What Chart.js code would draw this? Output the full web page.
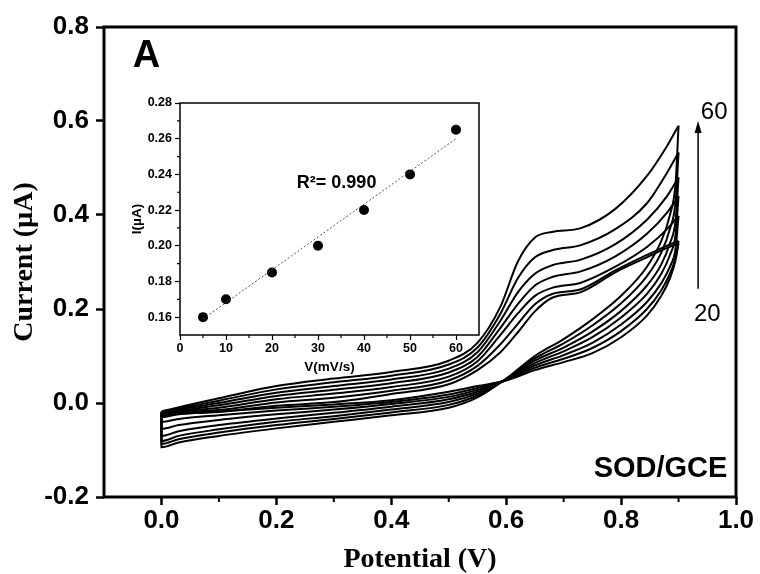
<!DOCTYPE html>
<html>
<head>
<meta charset="utf-8">
<script src="https://cdn.jsdelivr.net/npm/chart.js@4.4.0/dist/chart.umd.min.js"></script>
<style>
  html, body { margin: 0; padding: 0; background: #fff; }
  #wrap { position: relative; width: 760px; height: 574px; }
  #main { position: absolute; left: 0; top: 0; }
  #inset { position: absolute; left: 120px; top: 85px; }
</style>
</head>
<body>
<div id="wrap">
  <canvas id="main" width="760" height="574"></canvas>
  <canvas id="inset" width="380" height="300"></canvas>
</div>
<script>
// scan rates (mV/s), one CV loop per rate
const scanRates = [5, 10, 20, 30, 40, 50, 60];

// forward (anodic) branch, potential in V
const fwdPotential = [0, 0.02, 0.1, 0.2, 0.3, 0.4, 0.5, 0.55, 0.59, 0.62, 0.65, 0.68, 0.73, 0.79, 0.845, 0.88, 0.9];
const fwdCurrent = [
  [-0.027, -0.024, -0.019, -0.006, 0.002, 0.019, 0.040, 0.070, 0.108, 0.150, 0.195, 0.224, 0.236, 0.278, 0.310, 0.330, 0.340],
  [-0.026, -0.022, -0.015, 0.001, 0.011, 0.026, 0.048, 0.079, 0.125, 0.168, 0.210, 0.232, 0.242, 0.282, 0.315, 0.335, 0.345],
  [-0.024, -0.020, -0.010, 0.008, 0.020, 0.034, 0.056, 0.089, 0.145, 0.190, 0.228, 0.245, 0.256, 0.290, 0.332, 0.370, 0.398],
  [-0.022, -0.018, -0.005, 0.015, 0.028, 0.042, 0.065, 0.098, 0.160, 0.210, 0.250, 0.268, 0.280, 0.312, 0.360, 0.405, 0.440],
  [-0.021, -0.016, 0.000, 0.022, 0.036, 0.050, 0.073, 0.108, 0.175, 0.235, 0.275, 0.293, 0.305, 0.338, 0.390, 0.440, 0.480],
  [-0.019, -0.014, 0.005, 0.029, 0.044, 0.058, 0.082, 0.118, 0.190, 0.265, 0.310, 0.325, 0.336, 0.370, 0.425, 0.490, 0.533],
  [-0.018, -0.012, 0.010, 0.036, 0.052, 0.066, 0.090, 0.128, 0.205, 0.300, 0.352, 0.364, 0.372, 0.413, 0.483, 0.547, 0.590]
];

// reverse (cathodic) branch, listed with ascending potential
const revPotential = [0, 0.03, 0.1, 0.2, 0.3, 0.4, 0.5, 0.55, 0.6, 0.65, 0.7, 0.75, 0.8, 0.845, 0.87, 0.885, 0.895, 0.9];
const revCurrent = [
  [-0.030, -0.024, -0.018, -0.010, -0.003, 0.006, 0.024, 0.036, 0.048, 0.070, 0.087, 0.106, 0.140, 0.186, 0.228, 0.265, 0.305, 0.340],
  [-0.040, -0.034, -0.026, -0.016, -0.008, 0.002, 0.018, 0.032, 0.049, 0.075, 0.094, 0.117, 0.153, 0.200, 0.240, 0.275, 0.310, 0.345],
  [-0.055, -0.047, -0.036, -0.024, -0.014, -0.002, 0.013, 0.028, 0.049, 0.080, 0.102, 0.128, 0.167, 0.215, 0.255, 0.290, 0.330, 0.398],
  [-0.070, -0.060, -0.047, -0.033, -0.021, -0.008, 0.008, 0.024, 0.050, 0.085, 0.110, 0.140, 0.182, 0.232, 0.275, 0.315, 0.360, 0.440],
  [-0.081, -0.070, -0.056, -0.040, -0.028, -0.014, 0.002, 0.020, 0.050, 0.090, 0.118, 0.152, 0.196, 0.250, 0.295, 0.340, 0.390, 0.480],
  [-0.087, -0.077, -0.063, -0.047, -0.034, -0.020, -0.004, 0.016, 0.051, 0.095, 0.127, 0.165, 0.212, 0.270, 0.320, 0.370, 0.430, 0.533],
  [-0.094, -0.084, -0.070, -0.054, -0.040, -0.026, -0.010, 0.012, 0.052, 0.100, 0.136, 0.178, 0.228, 0.290, 0.345, 0.400, 0.470, 0.590]
];

const xTicks = [0, 0.2, 0.4, 0.6, 0.8, 1.0];
const xMinor = [0.1, 0.3, 0.5, 0.7, 0.9];
const yTicks = [-0.2, 0, 0.2, 0.4, 0.6, 0.8];
const yMinor = [];

// inset: peak current vs scan rate
const insetRate = [5, 10, 20, 30, 40, 50, 60];
const insetPeak = [0.160, 0.170, 0.185, 0.200, 0.220, 0.240, 0.265];
const fitRate = [5, 60];
const fitPeak = [0.159, 0.260];
const insetXTicks = [0, 10, 20, 30, 40, 50, 60];
const insetXMinor = [5, 15, 25, 35, 45, 55];
const insetYTicks = [0.16, 0.18, 0.20, 0.22, 0.24, 0.26, 0.28];
const insetYMinor = [0.17, 0.19, 0.21, 0.23, 0.25, 0.27];

const SANS = "'Liberation Sans', Arial, sans-serif";
const SERIF = "'Liberation Serif', 'Times New Roman', serif";

const cvDatasets = [];
scanRates.forEach((rate, i) => {
    const style = {
        showLine: true, borderColor: "#000", borderWidth: 2, pointRadius: 0,
        cubicInterpolationMode: "monotone", fill: false
    };
    cvDatasets.push(Object.assign({
        label: rate + " fwd",
        data: fwdPotential.map((x, k) => ({ x: x, y: fwdCurrent[i][k] }))
    }, style));
    // reverse branch, plus the short vertical join at 0 V
    const rev = [{ x: 0, y: fwdCurrent[i][0] }].concat(
        revPotential.map((x, k) => ({ x: x, y: revCurrent[i][k] }))
    );
    cvDatasets.push(Object.assign({ label: rate + " rev", data: rev }, style));
});

function minorTicks(ctx, area, xs, ys, xVals, yVals, len, width) {
    ctx.save();
    ctx.strokeStyle = "#000";
    ctx.lineWidth = width;
    ctx.beginPath();
    xVals.forEach((v) => {
        const px = xs.getPixelForValue(v);
        ctx.moveTo(px, area.bottom);
        ctx.lineTo(px, area.bottom + len);
    });
    yVals.forEach((v) => {
        const py = ys.getPixelForValue(v);
        ctx.moveTo(area.left, py);
        ctx.lineTo(area.left - len, py);
    });
    ctx.stroke();
    ctx.restore();
}

const mainDecor = {
    id: "mainDecor",
    afterDraw(chart) {
        const ctx = chart.ctx;
        const a = chart.chartArea;
        const xs = chart.scales.x, ys = chart.scales.y;
        minorTicks(ctx, a, xs, ys, xMinor, yMinor, 5, 2);
        ctx.save();
        ctx.strokeStyle = "#000";
        ctx.lineWidth = 3;
        ctx.strokeRect(a.left, a.top, a.right - a.left, a.bottom - a.top);

        ctx.fillStyle = "#000";
        ctx.textBaseline = "alphabetic";
        ctx.font = "bold 38px " + SANS;
        ctx.textAlign = "left";
        ctx.fillText("A", xs.getPixelForValue(-0.05), ys.getPixelForValue(0.715));

        ctx.font = "bold 29px " + SANS;
        ctx.textAlign = "right";
        ctx.fillText("SOD/GCE", xs.getPixelForValue(0.985), ys.getPixelForValue(-0.157));

        ctx.font = "24px " + SANS;
        ctx.textAlign = "center";
        ctx.fillText("60", xs.getPixelForValue(0.962), ys.getPixelForValue(0.604));
        ctx.fillText("20", xs.getPixelForValue(0.95), ys.getPixelForValue(0.1745));

        // arrow from 20 up to 60
        const ax = xs.getPixelForValue(0.934);
        const y0 = ys.getPixelForValue(0.243), y1 = ys.getPixelForValue(0.6);
        ctx.lineWidth = 1.5;
        ctx.beginPath();
        ctx.moveTo(ax, y0);
        ctx.lineTo(ax, y1 + 10);
        ctx.stroke();
        ctx.beginPath();
        ctx.moveTo(ax, y1);
        ctx.lineTo(ax - 3.5, y1 + 12);
        ctx.lineTo(ax + 3.5, y1 + 12);
        ctx.closePath();
        ctx.fill();
        ctx.restore();
    }
};

new Chart(document.getElementById("main"), {
    type: "scatter",
    data: { datasets: cvDatasets },
    options: {
        responsive: false,
        animation: false,
        layout: { padding: { left: 0, top: 27, right: 24, bottom: 0 } },
        plugins: { legend: { display: false }, tooltip: { enabled: false } },
        scales: {
            x: {
                type: "linear", min: -0.1, max: 1.0,
                afterBuildTicks: (s) => { s.ticks = xTicks.map((v) => ({ value: v })); },
                afterFit: (s) => { s.height = 77; s.paddingLeft = 0; s.paddingRight = 0; },
                ticks: {
                    callback: (v) => Number(v).toFixed(1), autoSkip: false, maxRotation: 0,
                    color: "#000", padding: 0, font: { family: SANS, size: 26, weight: "bold" }
                },
                grid: { drawOnChartArea: false, tickLength: 8, tickWidth: 2.5, tickColor: "#000" },
                border: { display: false },
                title: {
                    display: true, text: "Potential (V)", color: "#000", padding: { top: 0, bottom: 0 },
                    font: { family: SERIF, size: 28, weight: "bold", lineHeight: 1 }
                }
            },
            y: {
                type: "linear", min: -0.2, max: 0.8,
                afterBuildTicks: (s) => { s.ticks = yTicks.map((v) => ({ value: v })); },
                afterFit: (s) => { s.width = 104; s.paddingTop = 0; s.paddingBottom = 0; },
                ticks: {
                    callback: (v) => Number(v).toFixed(1), autoSkip: false,
                    color: "#000", padding: 7, font: { family: SANS, size: 26, weight: "bold" }
                },
                grid: { drawOnChartArea: false, tickLength: 8, tickWidth: 2.5, tickColor: "#000" },
                border: { display: false },
                title: {
                    display: true, text: "Current (µA)", color: "#000", padding: { top: 8, bottom: 0 },
                    font: { family: SERIF, size: 28, weight: "bold", lineHeight: 1.2 }
                }
            }
        }
    },
    plugins: [mainDecor]
});

const insetDecor = {
    id: "insetDecor",
    afterDraw(chart) {
        const ctx = chart.ctx;
        const a = chart.chartArea;
        const xs = chart.scales.x, ys = chart.scales.y;
        minorTicks(ctx, a, xs, ys, insetXMinor, insetYMinor, 3, 1.2);
        ctx.save();
        ctx.strokeStyle = "#000";
        ctx.lineWidth = 1.5;
        ctx.strokeRect(a.left, a.top, a.right - a.left, a.bottom - a.top);
        ctx.fillStyle = "#000";
        ctx.font = "bold 18px " + SANS;
        ctx.textAlign = "left";
        ctx.textBaseline = "alphabetic";
        ctx.fillText("R²= 0.990", xs.getPixelForValue(25.4), ys.getPixelForValue(0.2324));
        ctx.restore();
    }
};

new Chart(document.getElementById("inset"), {
    type: "scatter",
    data: {
        datasets: [
            {
                label: "fit",
                data: fitRate.map((x, k) => ({ x: x, y: fitPeak[k] })),
                showLine: true, borderColor: "#555", borderWidth: 1, borderDash: [2, 2], pointRadius: 0
            },
            {
                label: "peak",
                data: insetRate.map((x, k) => ({ x: x, y: insetPeak[k] })),
                pointRadius: 5, pointBackgroundColor: "#000", pointBorderColor: "#000", pointBorderWidth: 0
            }
        ]
    },
    options: {
        responsive: false,
        animation: false,
        layout: { padding: { left: 0, top: 18, right: 21, bottom: 0 } },
        plugins: { legend: { display: false }, tooltip: { enabled: false } },
        scales: {
            x: {
                type: "linear", min: 0, max: 65,
                afterBuildTicks: (s) => { s.ticks = insetXTicks.map((v) => ({ value: v })); },
                afterFit: (s) => { s.height = 50; s.paddingLeft = 0; s.paddingRight = 0; },
                ticks: {
                    autoSkip: false, maxRotation: 0, color: "#000", padding: 1,
                    font: { family: SANS, size: 12.5, weight: "bold" }
                },
                grid: { drawOnChartArea: false, tickLength: 5, tickWidth: 1.2, tickColor: "#000" },
                border: { display: false },
                title: {
                    display: true, text: "V(mV/s)", color: "#000", padding: { top: 0, bottom: 10 },
                    font: { family: SANS, size: 13.5, weight: "bold", lineHeight: 1.2 }
                }
            },
            y: {
                type: "linear", min: 0.15, max: 0.28,
                afterBuildTicks: (s) => { s.ticks = insetYTicks.map((v) => ({ value: v })); },
                afterFit: (s) => { s.width = 60; s.paddingTop = 0; s.paddingBottom = 0; },
                ticks: {
                    callback: (v) => Number(v).toFixed(2), autoSkip: false, color: "#000", padding: 3,
                    font: { family: SANS, size: 12.5, weight: "bold" }
                },
                grid: { drawOnChartArea: false, tickLength: 5, tickWidth: 1.2, tickColor: "#000" },
                border: { display: false },
                title: {
                    display: true, text: "I(µA)", color: "#000", padding: { top: 9, bottom: 0 },
                    font: { family: SANS, size: 13.5, weight: "bold", lineHeight: 1.2 }
                }
            }
        }
    },
    plugins: [insetDecor]
});
</script>
</body>
</html>
